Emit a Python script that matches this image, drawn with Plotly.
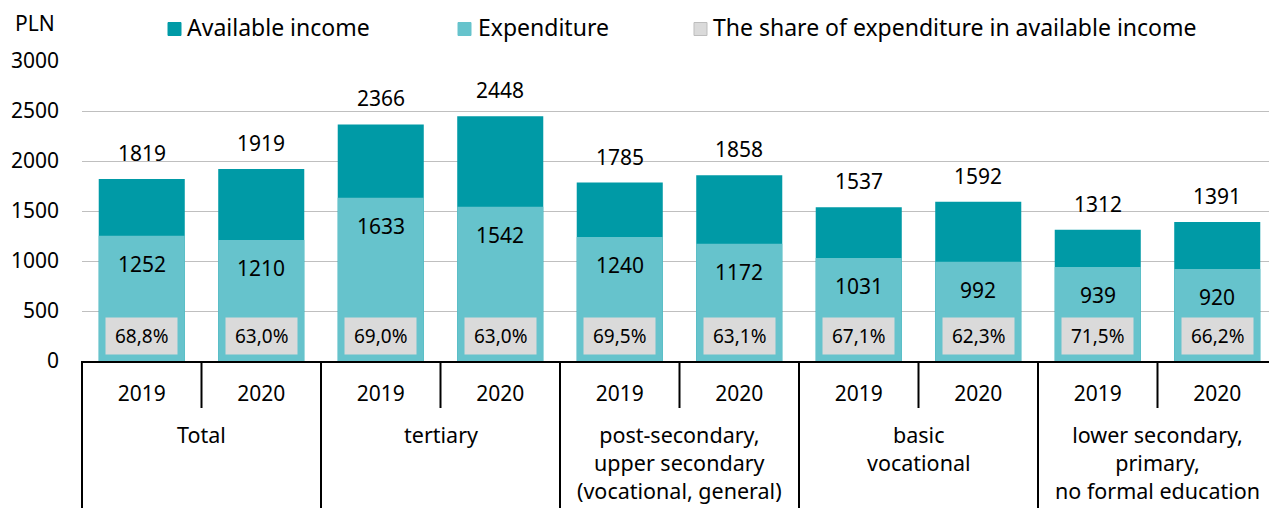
import plotly.graph_objects as go

# Data
groups = [
    "Total",
    "tertiary",
    "post-secondary,<br>upper secondary<br>(vocational, general)",
    "basic<br>vocational",
    "lower secondary,<br>primary,<br>no formal education",
]
years = ["2019", "2020"]
available_income = [1819, 1919, 2366, 2448, 1785, 1858, 1537, 1592, 1312, 1391]
expenditure = [1252, 1210, 1633, 1542, 1240, 1172, 1031, 992, 939, 920]
share_labels = ["68,8%", "63,0%", "69,0%", "63,0%", "69,5%",
                "63,1%", "67,1%", "62,3%", "71,5%", "66,2%"]

# Styling
FONT = "Noto Sans"
DARK = "#009AA6"
LIGHT = "#66C3CC"
GREY_BOX = "#DADADA"
NUM_SIZE = 21
TXT_SIZE = 23
GROUP_SIZE = 21.5
W, H = 1269, 508
ML, MR, MT, MB = 82, 0, 61, 147
PW, PH = W - ML - MR, H - MT - MB
CAT_PX = 119.5  # pixel width of one category slot

def px_x(px):
    return (px - ML) / PW

def px_y(py):
    return (H - MB - py) / PH

n = len(available_income)
x = list(range(n))
year_ticks = years * len(groups)

fig = go.Figure()
fig.add_trace(go.Bar(x=x, y=available_income, width=0.72, marker_color=DARK,
                     marker_line_width=0, name="Available income",
                     showlegend=False, hoverinfo="skip"))
fig.add_trace(go.Bar(x=x, y=expenditure, width=0.72, marker_color=LIGHT,
                     marker_line_width=0, name="Expenditure",
                     showlegend=False, hoverinfo="skip"))

annotations = []
shapes = []

# value labels
for i in range(n):
    annotations.append(dict(x=x[i], y=available_income[i], yshift=26,
                            yanchor="middle",
                            text=str(available_income[i]), showarrow=False,
                            font=dict(family=FONT, size=NUM_SIZE, color="black")))
    annotations.append(dict(x=x[i], y=expenditure[i], yshift=-28,
                            yanchor="middle",
                            text=str(expenditure[i]), showarrow=False,
                            font=dict(family=FONT, size=NUM_SIZE, color="black")))
    annotations.append(dict(x=x[i], xref="x", yref="paper", y=px_y(336),
                            yanchor="middle",
                            text=f" {share_labels[i]} ", showarrow=False,
                            bgcolor=GREY_BOX, height=28, borderpad=4,
                            font=dict(family=FONT, size=19, color="black")))

# group labels and separators below the axis
for g, name in enumerate(groups):
    annotations.append(dict(x=2 * g + 0.5, xref="x", yref="paper",
                            y=px_y(418), yanchor="top",
                            text=name, showarrow=False,
                            font=dict(family=FONT, size=GROUP_SIZE, color="black")))
    # divider between years
    shapes.append(dict(type="line", xref="x", yref="paper",
                       x0=2 * g + 0.5, x1=2 * g + 0.5, y0=0, y1=px_y(408),
                       line=dict(color="black", width=2)))
    if g > 0:
        shapes.append(dict(type="line", xref="x", yref="paper",
                           x0=2 * g - 0.5, x1=2 * g - 0.5, y0=0, y1=px_y(510),
                           line=dict(color="black", width=2)))
shapes.append(dict(type="line", xref="paper", yref="paper", x0=0, x1=0,
                   y0=0, y1=px_y(510), line=dict(color="black", width=2)))

# key
key = [("Available income", DARK, None, 168, 185),
       ("Expenditure", LIGHT, None, 458, 476),
       ("The share of expenditure in available income", GREY_BOX, "#BDBDBD", 694, 711)]
for label, fill, edge, mx, tx in key:
    shapes.append(dict(type="rect", xref="paper", yref="paper",
                       x0=px_x(mx), x1=px_x(mx + 13), y0=px_y(35.5), y1=px_y(22.5),
                       fillcolor=fill,
                       line=dict(color=edge or fill, width=1)))
    annotations.append(dict(x=px_x(tx), y=px_y(27), xref="paper", yref="paper",
                            xanchor="left", yanchor="middle", text=label,
                            showarrow=False,
                            font=dict(family=FONT, size=TXT_SIZE, color="black")))

annotations.append(dict(x=px_x(35), y=px_y(23), xref="paper", yref="paper",
                        xanchor="center", yanchor="middle",
                        text="PLN", showarrow=False,
                        font=dict(family=FONT, size=NUM_SIZE, color="black")))

fig.update_layout(
    width=W, height=H,
    margin=dict(l=ML, r=MR, t=MT, b=MB, pad=0),
    barmode="overlay",
    plot_bgcolor="white", paper_bgcolor="white",
    font=dict(family=FONT, size=NUM_SIZE, color="black"),
    annotations=annotations,
    shapes=shapes,
    showlegend=False,
)
fig.update_xaxes(
    range=[-0.5, -0.5 + PW / CAT_PX],
    tickvals=x, ticktext=year_ticks,
    showgrid=False, zeroline=False,
    showline=True, linecolor="black", linewidth=2,
    ticks="", ticklabelstandoff=13,
    tickfont=dict(family=FONT, size=NUM_SIZE, color="black"),
)
fig.update_yaxes(
    range=[0, 3000], tickvals=[0, 500, 1000, 1500, 2000, 2500, 3000],
    showgrid=True, gridcolor="#BFBFBF", gridwidth=1,
    zeroline=False, showline=False, ticks="", ticklabelstandoff=22,
    tickfont=dict(family=FONT, size=NUM_SIZE, color="black"),
)

fig.write_html("out.html")
